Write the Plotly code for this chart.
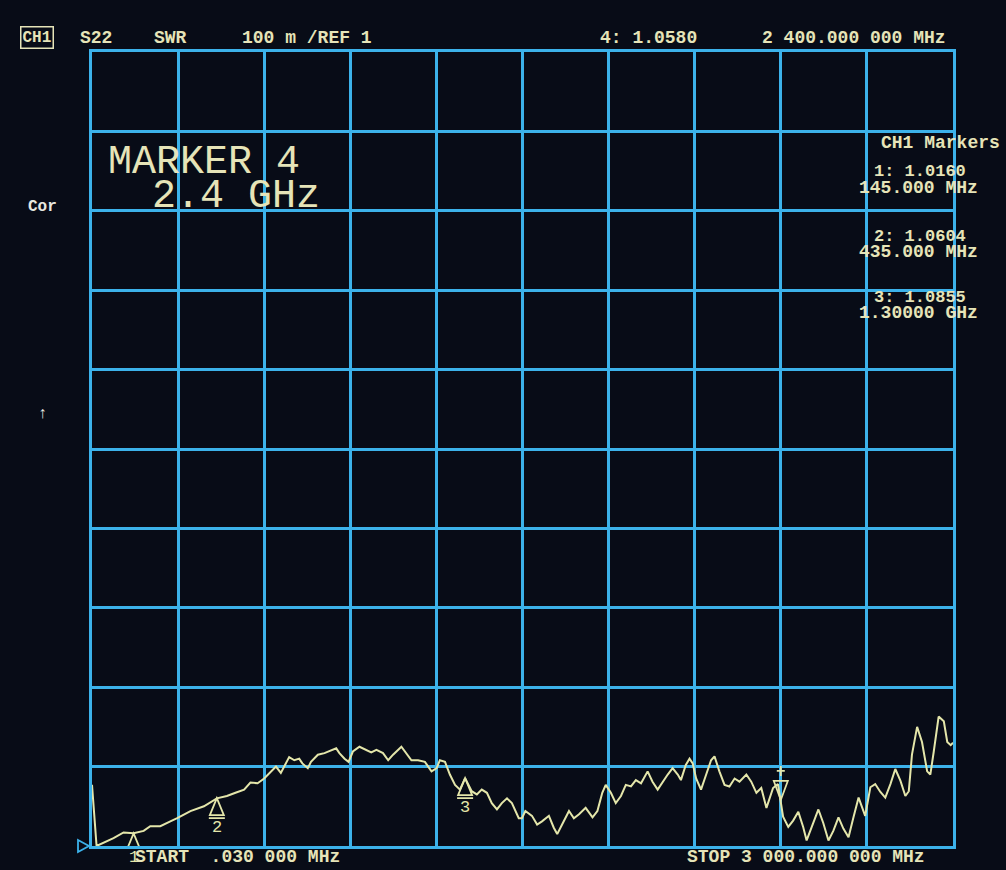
import plotly.graph_objects as go

freq_mhz = [0.03, 16, 75, 110, 145, 180, 203, 238, 273, 297, 343, 390, 435, 470, 500, 530,
            552, 577, 600, 623, 641, 658, 676, 687, 705, 722, 733, 752, 763, 787, 810, 833,
            851, 862, 880, 894, 909, 932, 956, 973, 991, 1014, 1032, 1049, 1078, 1096, 1113,
            1136, 1160, 1183, 1201, 1212, 1230, 1247, 1265, 1282, 1300, 1323, 1341, 1358,
            1376, 1393, 1411, 1428, 1446, 1463, 1487, 1498, 1510, 1533, 1551, 1568, 1592,
            1609, 1621, 1638, 1662, 1679, 1697, 1720, 1744, 1761, 1778, 1790, 1808, 1825,
            1843, 1860, 1878, 1895, 1913, 1936, 1953, 1971, 1988, 2006, 2023, 2041, 2052,
            2069, 2082, 2093, 2105, 2122, 2140, 2157, 2169, 2186, 2204, 2221, 2239, 2256,
            2280, 2297, 2315, 2332, 2350, 2373, 2390, 2400, 2408, 2426, 2443, 2461, 2478,
            2490, 2508, 2531, 2548, 2566, 2583, 2601, 2618, 2636, 2653, 2671, 2683, 2694,
            2712, 2729, 2747, 2764, 2782, 2799, 2817, 2834, 2846, 2857, 2875, 2892, 2910,
            2921, 2933, 2950, 2968, 2980, 2992, 3000]
swr = [1.077, 1.000, 1.010, 1.017, 1.016, 1.019, 1.025, 1.025, 1.031, 1.035, 1.044, 1.050,
       1.060, 1.063, 1.067, 1.071, 1.080, 1.079, 1.085, 1.094, 1.100, 1.092, 1.104, 1.112,
       1.108, 1.110, 1.104, 1.098, 1.106, 1.115, 1.117, 1.120, 1.123, 1.117, 1.110, 1.106,
       1.119, 1.125, 1.121, 1.118, 1.121, 1.117, 1.108, 1.115, 1.125, 1.117, 1.108, 1.108,
       1.106, 1.094, 1.098, 1.108, 1.106, 1.090, 1.077, 1.071, 1.0855, 1.069, 1.065, 1.071,
       1.067, 1.054, 1.046, 1.054, 1.060, 1.054, 1.035, 1.035, 1.044, 1.038, 1.027, 1.031,
       1.038, 1.023, 1.015, 1.027, 1.044, 1.035, 1.040, 1.048, 1.036, 1.044, 1.067, 1.077,
       1.067, 1.054, 1.063, 1.077, 1.075, 1.083, 1.079, 1.094, 1.081, 1.071, 1.081, 1.090,
       1.098, 1.090, 1.083, 1.102, 1.110, 1.104, 1.085, 1.071, 1.090, 1.108, 1.113, 1.094,
       1.077, 1.075, 1.085, 1.081, 1.090, 1.081, 1.067, 1.073, 1.048, 1.073, 1.078, 1.058,
       1.037, 1.024, 1.032, 1.043, 1.024, 1.007, 1.024, 1.046, 1.029, 1.007, 1.019, 1.036,
       1.022, 1.011, 1.036, 1.061, 1.049, 1.038, 1.074, 1.078, 1.068, 1.061, 1.078, 1.097,
       1.082, 1.063, 1.069, 1.115, 1.150, 1.131, 1.094, 1.090, 1.119, 1.163, 1.157, 1.131,
       1.127, 1.130]

marker_ids = ["1", "2", "3", "4"]
marker_freq = [145, 435, 1300, 2400]
marker_swr = [1.0160, 1.0604, 1.0855, 1.0580]
marker_freq_txt = ["145.000 MHz", "435.000 MHz", "1.30000 GHz", "2 400.000 000 MHz"]

start_mhz, stop_mhz = 0.03, 3000
ref_value, scale_per_div = 1.0, 0.1

# ---- styling ----
W, H = 1006, 870
L, R, T, B = 92, 53, 52, 24
BG = "#080c17"
GRID = "#3cb2ea"
TRACE = "#e4e6aa"
TXT = "#e6e4b8"
MONO = "Liberation Mono, DejaVu Sans Mono, monospace"

def px(x):
    return (x - L) / (W - L - R)

def py(y):
    return (H - B - y) / (H - T - B)

fig = go.Figure()
fig.add_trace(go.Scatter(x=freq_mhz, y=swr, mode="lines",
                         line=dict(color=TRACE, width=2), hoverinfo="skip",
                         showlegend=False))

shapes = []
annotations = []

# marker triangles
for mid, f, v in zip(marker_ids, marker_freq, marker_swr):
    if mid == "4":
        path = "M 0 0 L -7 19 L 7 19 Z M 0 24 L 0 34 M -4 29 L 4 29"
    else:
        path = "M 0 0 L -7 -17 L 7 -17 Z M -8 -20 L 8 -20"
        annotations.append(dict(x=f, y=v, xref="x", yref="y", text=mid, showarrow=False,
                                yshift=-24 if mid == "1" else -29,
                                font=dict(family=MONO, size=17, color=TRACE)))
    shapes.append(dict(type="path", xref="x", yref="y", xsizemode="pixel",
                       ysizemode="pixel", xanchor=f, yanchor=v, path=path,
                       line=dict(color=TRACE, width=1.8)))

# reference pointer at left of bottom line
shapes.append(dict(type="path", xref="paper", yref="paper", xsizemode="pixel",
                   ysizemode="pixel", xanchor=0, yanchor=0,
                   path="M -14 6 L -3 0 L -14 -6 Z", line=dict(color=GRID, width=1.8)))

def txt(x, y, s, size=18, anchor="left", color=TXT, family=MONO, bold=True, **kw):
    t = f"<b>{s}</b>" if bold else s
    annotations.append(dict(x=px(x), y=py(y), xref="paper", yref="paper", text=t,
                            showarrow=False, xanchor=anchor, yanchor="middle",
                            font=dict(family=family, size=size, color=color), **kw))

# header
txt(20, 38, "CH1", size=16, bordercolor=TXT, borderwidth=1.5, borderpad=1)
txt(78, 38, "S22")
txt(152, 38, "SWR")
txt(240, 38, "100 m /REF 1")
txt(598, 38, f"4: {marker_swr[3]:.4f}")
txt(948, 38, marker_freq_txt[3], anchor="right")

# right-side marker table
txt(1002, 143, "CH1 Markers", anchor="right")
rows_y = [(172, 188), (237, 252), (297, 313)]
for (y1, y2), mid, v, ft in zip(rows_y, marker_ids[:3], marker_swr[:3], marker_freq_txt[:3]):
    txt(968, y1, f"{mid}: {v:.4f}", anchor="right", size=17)
    txt(980, y2, ft, anchor="right")

# big marker text
txt(106, 162, "MARKER 4", size=40, bold=False)
txt(150, 196, "2.4 GHz", size=40, bold=False)

# left side
txt(26, 207, "Cor", size=16, color="#e8e8e0")
txt(36, 414, "↑", size=16, color="#e8e8e0")

# footer
txt(133, 857, "START  .030 000 MHz", size=18)
txt(927, 857, "STOP 3 000.000 000 MHz", anchor="right", size=18)

axis_common = dict(showgrid=True, gridcolor=GRID, gridwidth=2.5, zeroline=False,
                   showline=True, linecolor=GRID, linewidth=2.5, mirror=True,
                   showticklabels=False, ticks="", fixedrange=True)

fig.update_layout(
    width=W, height=H,
    margin=dict(l=L, r=R, t=T, b=B),
    paper_bgcolor=BG, plot_bgcolor=BG,
    xaxis=dict(range=[start_mhz, stop_mhz], tick0=start_mhz,
               dtick=(stop_mhz - start_mhz) / 10, **axis_common),
    yaxis=dict(range=[ref_value, ref_value + 10 * scale_per_div], tick0=ref_value,
               dtick=scale_per_div, **axis_common),
    shapes=shapes, annotations=annotations, showlegend=False,
)

fig.write_html("out.html", config={"displayModeBar": False},
               post_script="document.body.style.margin='0';"
                           f"document.body.style.background='{BG}';")
